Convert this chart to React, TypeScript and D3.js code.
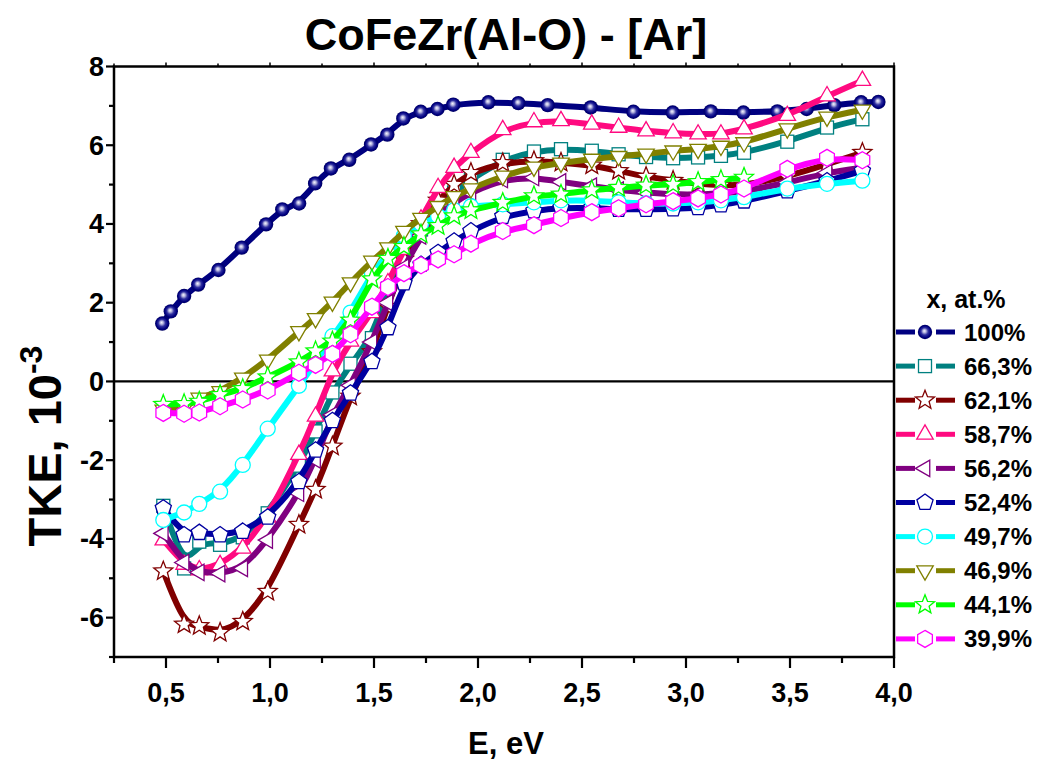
import React from "react";
import * as d3 from "d3";

// Photon energy grid (eV) shared by the alloy series
const E = [0.487, 0.587, 0.66, 0.76, 0.869, 0.989, 1.139, 1.219, 1.3, 1.387, 1.49, 1.567, 1.644, 1.726, 1.808, 1.885, 1.966, 2.119, 2.269, 2.399, 2.547, 2.676, 2.808, 2.938, 3.058, 3.168, 3.279, 3.487, 3.678, 3.848];
// Energy grid for the 100% series
const E100 = [0.482, 0.523, 0.587, 0.655, 0.752, 0.864, 0.981, 1.059, 1.14, 1.217, 1.293, 1.381, 1.486, 1.564, 1.641, 1.725, 1.805, 1.881, 2.05, 2.194, 2.335, 2.542, 2.747, 2.936, 3.119, 3.276, 3.439, 3.58, 3.713, 3.842, 3.925];

const TKE100 = [1.47, 1.78, 2.17, 2.46, 2.83, 3.4, 3.99, 4.37, 4.52, 5.03, 5.41, 5.63, 6.02, 6.27, 6.68, 6.85, 6.92, 7.03, 7.09, 7.07, 7.02, 6.96, 6.85, 6.83, 6.86, 6.83, 6.86, 6.92, 7.02, 7.09, 7.1];
const TKE663 = [-3.16, -4.75, -4.07, -4.15, -3.96, -3.35, -2.14, -1.27, -0.28, 0.45, 1.1, 2.36, 3.22, 3.86, 4.41, 4.8, 5.13, 5.63, 5.84, 5.9, 5.86, 5.77, 5.7, 5.67, 5.69, 5.73, 5.81, 6.09, 6.45, 6.66];
const TKE621 = [-4.82, -6.17, -6.21, -6.38, -6.1, -5.34, -3.64, -2.75, -1.65, -0.38, 0.75, 1.9, 3.1, 4.0, 4.6, 5.0, 5.3, 5.55, 5.6, 5.56, 5.49, 5.35, 5.2, 5.1, 5.02, 4.98, 4.98, 5.2, 5.52, 5.81];
const TKE587 = [-4.03, -4.65, -4.79, -4.66, -4.24, -3.45, -1.86, -0.89, 0.26, 1.02, 1.74, 2.5, 3.35, 4.12, 4.92, 5.43, 5.81, 6.39, 6.59, 6.62, 6.53, 6.45, 6.36, 6.31, 6.28, 6.28, 6.41, 6.75, 7.25, 7.64];
const TKE562 = [-3.86, -4.6, -4.85, -4.88, -4.75, -4.03, -2.84, -1.99, -0.85, -0.1, 1.0, 2.0, 2.9, 3.7, 4.2, 4.55, 4.8, 5.13, 5.18, 5.07, 4.96, 4.86, 4.8, 4.75, 4.75, 4.78, 4.82, 5.05, 5.3, 5.43];
const TKE524 = [-3.22, -3.9, -3.84, -3.9, -3.81, -3.45, -2.55, -1.75, -1.0, -0.3, 0.5, 1.36, 2.5, 2.97, 3.27, 3.56, 3.82, 4.19, 4.33, 4.41, 4.41, 4.37, 4.37, 4.38, 4.41, 4.48, 4.58, 4.84, 5.09, 5.35];
const TKE497 = [-3.52, -3.33, -3.11, -2.8, -2.12, -1.2, -0.11, 0.47, 1.15, 1.75, 2.75, 3.25, 3.7, 4.0, 4.2, 4.35, 4.45, 4.5, 4.55, 4.6, 4.6, 4.55, 4.52, 4.52, 4.55, 4.6, 4.68, 4.9, 5.02, 5.1];
const TKE469 = [-0.72, -0.68, -0.42, -0.25, 0.09, 0.55, 1.27, 1.6, 2.02, 2.51, 3.06, 3.4, 3.82, 4.15, 4.45, 4.7, 4.9, 5.22, 5.45, 5.55, 5.65, 5.72, 5.78, 5.86, 5.9, 5.98, 6.07, 6.42, 6.72, 6.9];
const TKE441 = [-0.59, -0.57, -0.51, -0.34, -0.19, 0.11, 0.49, 0.77, 1.02, 1.55, 2.6, 3.12, 3.42, 3.74, 3.95, 4.2, 4.35, 4.54, 4.71, 4.75, 4.86, 4.92, 4.98, 5.0, 5.07, 5.12, 5.18, null, null, null];
const TKE399 = [-0.8, -0.82, -0.79, -0.63, -0.46, -0.23, 0.22, 0.42, 0.7, 1.2, 1.9, 2.4, 2.75, 2.95, 3.1, 3.23, 3.5, 3.82, 3.97, 4.15, 4.3, 4.4, 4.5, 4.58, 4.65, 4.75, 4.9, 5.4, 5.68, 5.62];

const LABELS = ["100%", "66,3%", "62,1%", "58,7%", "56,2%", "52,4%", "49,7%", "46,9%", "44,1%", "39,9%"];
const COLORS = ["#000080", "#008080", "#800000", "#FF0A80", "#800080", "#0000A0", "#00FFFF", "#808000", "#00FF00", "#FF00FF"];
const SHAPES = ["sphere", "square", "star", "triUp", "triLeft", "pentagon", "circle", "triDown", "star", "hexagon"];

const X_MAJOR = [0.5, 1.0, 1.5, 2.0, 2.5, 3.0, 3.5, 4.0];
const X_MINOR = [0.25, 0.75, 1.25, 1.75, 2.25, 2.75, 3.25, 3.75];
const Y_MAJOR = [-6, -4, -2, 0, 2, 4, 6, 8];
const Y_MINOR = [-7, -5, -3, -1, 1, 3, 5, 7];

const FONT = "'Liberation Sans', Arial, Helvetica, sans-serif";

function polygon(n: number, r: number, rot: number) {
  const pts: string[] = [];
  for (let i = 0; i < n; i++) {
    const a = rot + (i * 2 * Math.PI) / n;
    pts.push(`${(r * Math.cos(a)).toFixed(2)},${(r * Math.sin(a)).toFixed(2)}`);
  }
  return "M" + pts.join("L") + "Z";
}
function starPath(R: number, r: number) {
  const pts: string[] = [];
  for (let i = 0; i < 10; i++) {
    const rad = i % 2 === 0 ? R : r;
    const a = -Math.PI / 2 + (i * Math.PI) / 5;
    pts.push(`${(rad * Math.cos(a)).toFixed(2)},${(rad * Math.sin(a)).toFixed(2)}`);
  }
  return "M" + pts.join("L") + "Z";
}

function Marker({ shape, color, cx, cy }: { shape: string; color: string; cx: number; cy: number }) {
  const t = `translate(${cx},${cy})`;
  const common = { fill: "#fff", stroke: color, strokeWidth: 1.3, transform: t };
  switch (shape) {
    case "sphere":
      return <circle cx={cx} cy={cy} r={7.2} fill="url(#sphereGrad)" />;
    case "square":
      return <rect x={cx - 6.5} y={cy - 6.5} width={13} height={13} fill="#fff" stroke={color} strokeWidth={1.3} />;
    case "star":
      return <path d={starPath(10, 4.3)} {...common} />;
    case "triUp":
      return <path d={polygon(3, 9.5, -Math.PI / 2)} {...common} />;
    case "triDown":
      return <path d={polygon(3, 9.5, Math.PI / 2)} {...common} />;
    case "triLeft":
      return <path d={polygon(3, 9.5, Math.PI)} {...common} />;
    case "pentagon":
      return <path d={polygon(5, 8.5, -Math.PI / 2)} {...common} />;
    case "hexagon":
      return <path d={polygon(6, 8.5, -Math.PI / 2)} {...common} />;
    default:
      return <circle cx={cx} cy={cy} r={7.5} fill="#fff" stroke={color} strokeWidth={1.3} />;
  }
}

export default function App() {
  const W = 1043, H = 762;
  const left = 114, right = 894, top = 66.5, bottom = 657;
  const x = d3.scaleLinear().domain([0.25, 4.0]).range([left, right]);
  const y = d3.scaleLinear().domain([-7, 8]).range([bottom, top]);

  const seriesY = [TKE100, TKE663, TKE621, TKE587, TKE562, TKE524, TKE497, TKE469, TKE441, TKE399];
  const series = seriesY.map((vals, i) => {
    const xs = i === 0 ? E100 : E;
    const pts = vals
      .map((v, j) => (v === null ? null : ([xs[j], v] as [number, number])))
      .filter((p) => p !== null) as [number, number][];
    return { pts, color: COLORS[i], shape: SHAPES[i], label: LABELS[i] };
  });

  const line = d3
    .line<[number, number]>()
    .x((d) => x(d[0]))
    .y((d) => y(d[1]))
    .curve(d3.curveBasis);

  const fmt = (v: number) => d3.format(".1f")(v).replace(".", ",");

  const legX1 = 896, legX2 = 955, legMX = 925, legTX = 964;
  const legY0 = 332, legStep = 34.1;

  return (
    <svg width={W} height={H} style={{ position: "absolute", left: 0, top: 0, background: "#fff" }} fontFamily={FONT}>
      <defs>
        <radialGradient id="sphereGrad" cx="50%" cy="50%" r="50%" fx="45%" fy="42%">
          <stop offset="0%" stopColor="#f4f4ff" />
          <stop offset="22%" stopColor="#b8b8e0" />
          <stop offset="50%" stopColor="#3030a0" />
          <stop offset="80%" stopColor="#000080" />
          <stop offset="100%" stopColor="#000060" />
        </radialGradient>
        <clipPath id="plotClip">
          <rect x={left} y={top} width={right - left} height={bottom - top} />
        </clipPath>
      </defs>
      <rect x={0} y={0} width={W} height={H} fill="#fff" />

      {/* Title */}
      <text x={506} y={50} textAnchor="middle" fontSize={45} fontWeight="bold">
        CoFeZr(Al-O) - [Ar]
      </text>

      {/* zero line */}
      <line x1={left} x2={right} y1={y(0)} y2={y(0)} stroke="#000" strokeWidth={2.2} />

      {/* series */}
      <g clipPath="url(#plotClip)">
        {series.map((s, i) => (
          <g key={i}>
            <path d={line(s.pts) || ""} fill="none" stroke={s.color} strokeWidth={6} strokeLinejoin="round" strokeLinecap="round" />
            {s.pts.map((p, j) => (
              <Marker key={j} shape={s.shape} color={s.color} cx={x(p[0])} cy={y(p[1])} />
            ))}
          </g>
        ))}
      </g>

      {/* frame */}
      <rect x={left} y={top} width={right - left} height={bottom - top} fill="none" stroke="#000" strokeWidth={2.5} />

      {/* bottom axis ticks */}
      {X_MAJOR.map((v) => (
        <g key={"xm" + v}>
          <line x1={x(v)} x2={x(v)} y1={bottom} y2={bottom + 11} stroke="#000" strokeWidth={2.2} />
          <line x1={x(v)} x2={x(v)} y1={top} y2={top - 4} stroke="#000" strokeWidth={1.5} />
          <text x={x(v)} y={bottom + 45} textAnchor="middle" fontSize={27} fontWeight="bold">
            {fmt(v)}
          </text>
        </g>
      ))}
      {X_MINOR.map((v) => (
        <g key={"xn" + v}>
          <line x1={x(v)} x2={x(v)} y1={bottom} y2={bottom + 6} stroke="#000" strokeWidth={2.2} />
          <line x1={x(v)} x2={x(v)} y1={top} y2={top - 3} stroke="#000" strokeWidth={1.5} />
        </g>
      ))}

      {/* left axis ticks */}
      {Y_MAJOR.map((v) => (
        <g key={"ym" + v}>
          <line x1={left} x2={left - 8} y1={y(v)} y2={y(v)} stroke="#000" strokeWidth={2.2} />
          <text x={left - 10} y={y(v) + 9.5} textAnchor="end" fontSize={27} fontWeight="bold">
            {v}
          </text>
        </g>
      ))}
      {Y_MINOR.map((v) => (
        <line key={"yn" + v} x1={left} x2={left - 5} y1={y(v)} y2={y(v)} stroke="#000" strokeWidth={2.2} />
      ))}

      {/* axis titles */}
      <text x={506} y={754} textAnchor="middle" fontSize={31} fontWeight="bold">
        E, eV
      </text>
      <text transform={`translate(61,446) rotate(-90)`} textAnchor="middle" fontSize={47} fontWeight="bold">
        TKE, 10
        <tspan fontSize={32} dy={-19}>
          -3
        </tspan>
      </text>

      {/* legend */}
      <text x={966} y={308} textAnchor="middle" fontSize={25} fontWeight="bold">
        x, at.%
      </text>
      {series.map((s, i) => {
        const ly = legY0 + i * legStep;
        return (
          <g key={"lg" + i}>
            <line x1={legX1} x2={legMX - 10} y1={ly} y2={ly} stroke={s.color} strokeWidth={5} />
            <line x1={legMX + 11} x2={legX2} y1={ly} y2={ly} stroke={s.color} strokeWidth={5} />
            <Marker shape={s.shape} color={s.color} cx={legMX} cy={ly} />
            <text x={legTX} y={ly + 8.5} fontSize={24} fontWeight="bold">
              {s.label}
            </text>
          </g>
        );
      })}
    </svg>
  );
}
